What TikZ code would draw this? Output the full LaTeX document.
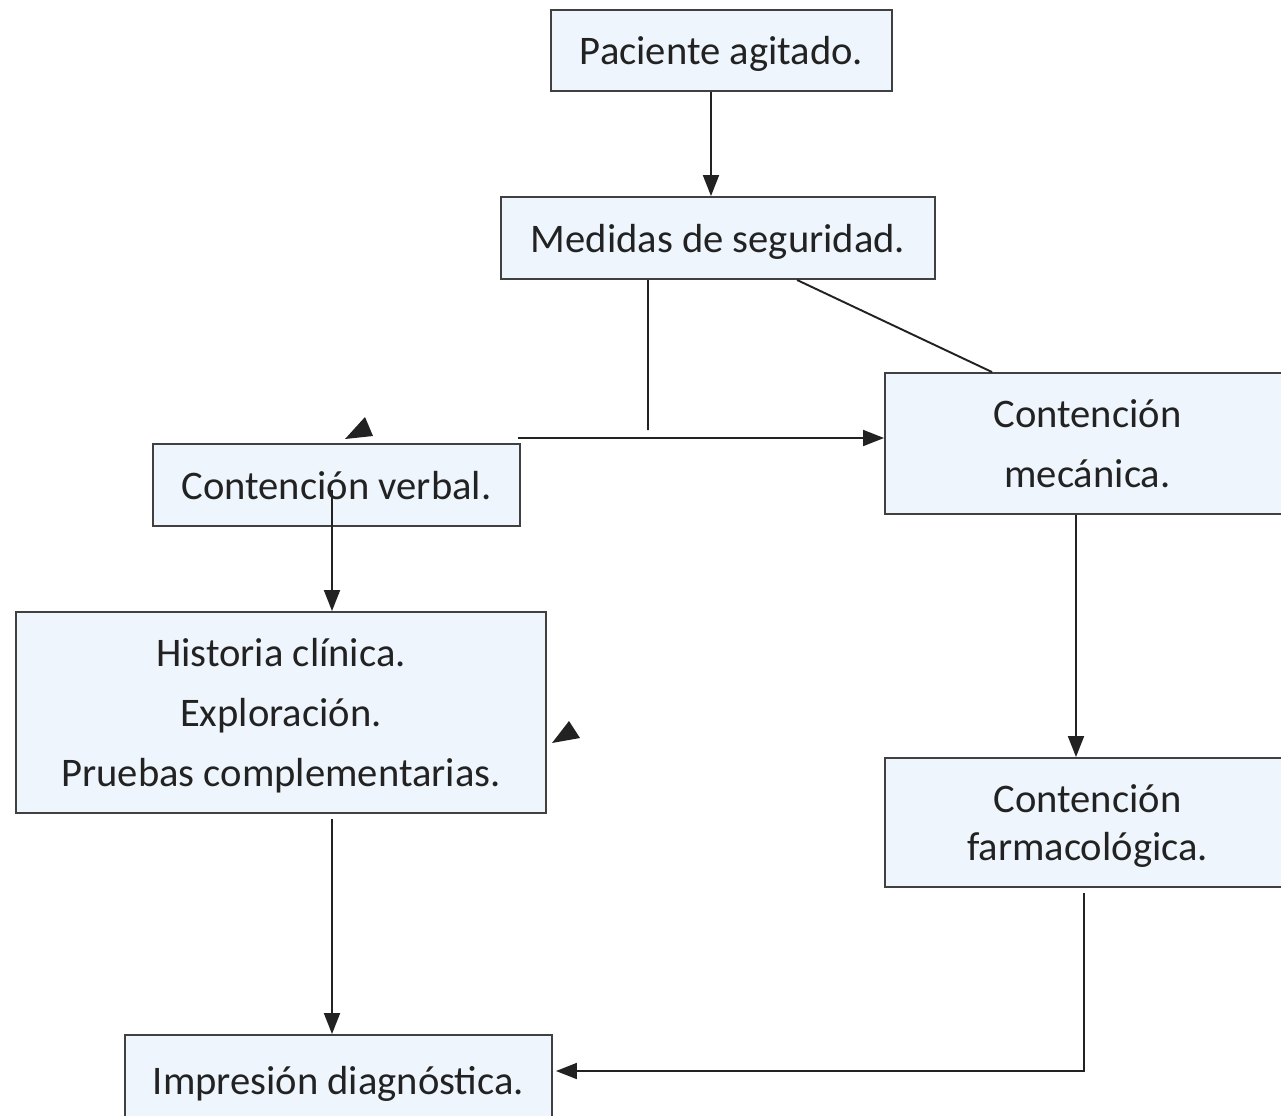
\documentclass[tikz,border=0pt]{standalone}
\usepackage{fontspec}
\setmainfont{Carlito}
\usetikzlibrary{arrows.meta}
\definecolor{boxfill}{HTML}{EEF5FD}
\definecolor{boxline}{HTML}{404040}
\definecolor{inkline}{HTML}{222222}
\tikzset{
  box/.style={draw=boxline, fill=boxfill, line width=1.1pt, inner sep=0pt, text depth=0pt,
    align=center, text=inkline, font=\fontsize{23.1}{34}\selectfont},
  link/.style={draw=inkline, line width=1.1pt},
  arrow/.style={link, -{Triangle[length=0.42cm,width=0.32cm]}}
}
\begin{document}
\begin{tikzpicture}
      \useasboundingbox (0,0) rectangle (25.62,-22.30);

      \node[box, minimum width=6.82cm, minimum height=1.62cm] (pac) at (14.43,-1.01) {Paciente agitado.};
      \node[box, minimum width=8.68cm, minimum height=1.64cm] (med) at (14.36,-4.76) {Medidas de seguridad.};
      \node[box, minimum width=8.1cm, minimum height=2.82cm] (mec) at (21.75,-8.87) {Contención\\mecánica.};
      \node[box, minimum width=7.34cm, minimum height=1.64cm] (verb) at (6.73,-9.70) {Contención verbal.};
      \node[box, minimum width=10.6cm, minimum height=4.02cm] (hist) at (5.62,-14.25)
        {Historia clínica.\\Exploración.\\Pruebas complementarias.};
      \node[box, minimum width=8.1cm, minimum height=2.58cm, font=\fontsize{23.1}{27.3}\selectfont] (farm) at (21.75,-16.45)
        {Contención\\farmacológica.};
      \node[box, minimum width=8.54cm, minimum height=1.8cm] (imp) at (6.77,-21.6) {Impresión diagnóstica.};

      \coordinate (medend) at (12.96,-8.6);
      \coordinate (hstart) at (10.36,-8.76);

      \draw[arrow] ([xshift=-0.21cm]pac.south) -- ([xshift=-0.21cm]pac.south |- med.north);
      \draw[link] ([xshift=-1.4cm]med.south) -- (medend);
      \draw[arrow] (hstart) -- (hstart -| mec.west);
      \draw[link] ([xshift=1.58cm]med.south) -- ([xshift=-1.91cm]mec.north);
      \draw[arrow] ([xshift=-0.09cm,yshift=-0.1cm]verb.center) -- ([xshift=1.02cm]hist.north);
      \draw[arrow] ([xshift=1.02cm,yshift=-0.1cm]hist.south) -- ([xshift=-0.13cm]imp.north);
      \draw[arrow] ([xshift=-0.23cm]mec.south) -- ([xshift=-0.23cm]farm.north);
      \draw[arrow] ([xshift=-0.07cm,yshift=-0.1cm]farm.south) |- ([xshift=0.06cm,yshift=0.18cm]imp.east);

      \fill[inkline] (6.9,-8.78) -- (7.3,-8.34) -- (7.46,-8.72) -- cycle;
      \fill[inkline] (11.04,-14.86) -- (11.38,-14.42) -- (11.6,-14.76) -- cycle;
\end{tikzpicture}
\end{document}
